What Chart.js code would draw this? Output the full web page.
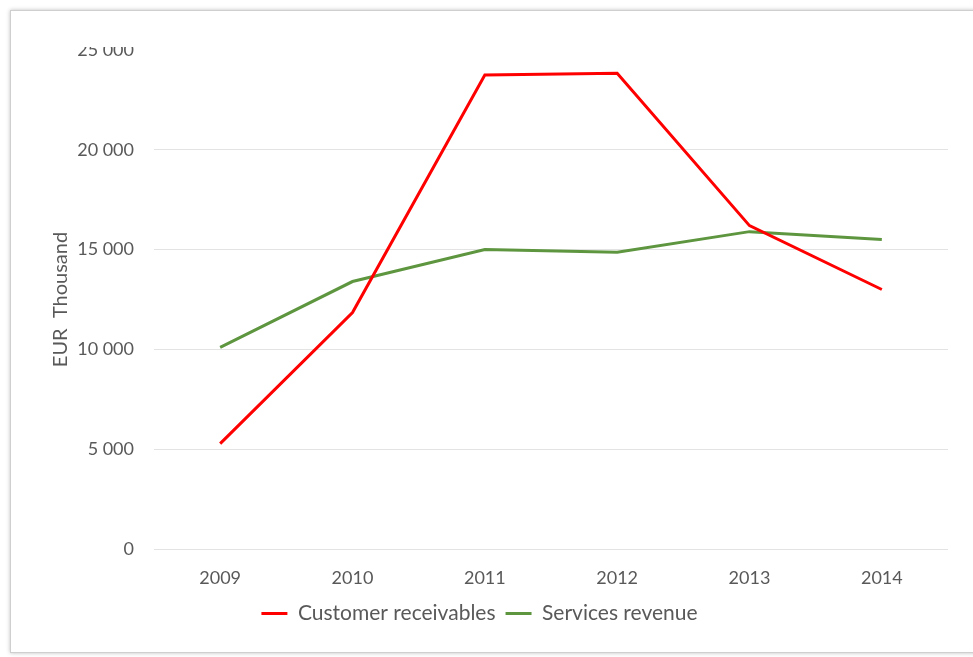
<!DOCTYPE html>
<html>
<head>
<meta charset="utf-8">
<script src="https://cdn.jsdelivr.net/npm/chart.js@4.4.1/dist/chart.umd.min.js"></script>
<style>
  html, body { margin: 0; padding: 0; background: #fff; overflow: hidden; }
  .frame {
    position: absolute; left: 10px; top: 10px;
    width: 1000px; height: 643px; box-sizing: border-box;
    border: 1px solid #cfcfcf;
    box-shadow: 0 0 4px rgba(0,0,0,0.25);
    background: #fff;
  }
  .wrap { position: relative; width: 962px; height: 641px; }
</style>
</head>
<body>
<div class="frame"><div class="wrap"><canvas id="myChart"></canvas></div></div>
<script>
const years = ['2009', '2010', '2011', '2012', '2013', '2014'];
const customerReceivables = [5280, 11850, 23750, 23830, 16200, 13000];
const servicesRevenue = [10100, 13400, 15000, 14870, 15900, 15500];

const grey = '#595959';

// white strip over the top, the picture is cut just above the plot
const cutTop = {
    id: 'cutTop',
    afterDraw(chart) {
        const c = chart.ctx;
        c.save();
        c.fillStyle = '#fff';
        c.fillRect(0, 0, chart.width, chart.chartArea.top - 3);
        c.restore();
    }
};

const ctx = document.getElementById('myChart').getContext('2d');
const chart = new Chart(ctx, {
    type: 'line',
    data: {
        labels: years,
        datasets: [{
            label: 'Customer receivables',
            data: customerReceivables,
            borderColor: '#ff0000',
            backgroundColor: '#ff0000',
            borderWidth: 3,
            pointRadius: 0,
            tension: 0
        }, {
            label: 'Services revenue',
            data: servicesRevenue,
            borderColor: '#5e9640',
            backgroundColor: '#5e9640',
            borderWidth: 3,
            pointRadius: 0,
            tension: 0
        }]
    },
    options: {
        responsive: true,
        maintainAspectRatio: false,
        animation: false,
        layout: { padding: { top: 39, right: 25, bottom: 18, left: 0 } },
        plugins: {
            tooltip: { enabled: false },
            legend: {
                position: 'bottom',
                labels: {
                    usePointStyle: true,
                    pointStyle: 'line',
                    pointStyleWidth: 26,
                    boxWidth: 26,
                    padding: 10,
                    color: grey,
                    font: { family: 'Lato', size: 21 }
                }
            }
        },
        scales: {
            x: {
                offset: true,
                grid: { display: false, drawTicks: false },
                border: { display: false },
                ticks: {
                    color: grey,
                    padding: 18,
                    font: { family: 'Lato', size: 18 }
                },
                afterFit(scale) { scale.height = 44; }
            },
            y: {
                min: 0,
                max: 25000,
                grid: {
                    drawTicks: false,
                    lineWidth: 1,
                    color: (c) => c.tick && c.tick.value === 25000 ? 'rgba(0,0,0,0)' : '#e3e3e3'
                },
                border: { display: false },
                ticks: {
                    stepSize: 5000,
                    color: grey,
                    padding: 20,
                    font: { family: 'Lato', size: 18 },
                    callback: (v) => String(v).replace(/\B(?=(\d{3})+(?!\d))/g, ' ')
                },
                title: {
                    display: true,
                    text: 'EUR  Thousand',
                    color: grey,
                    padding: { top: 38, bottom: 0 },
                    font: { family: 'Lato', size: 20 }
                },
                afterFit(scale) { scale.width = 143; }
            }
        }
    },
    plugins: [cutTop]
});
</script>
</body>
</html>
